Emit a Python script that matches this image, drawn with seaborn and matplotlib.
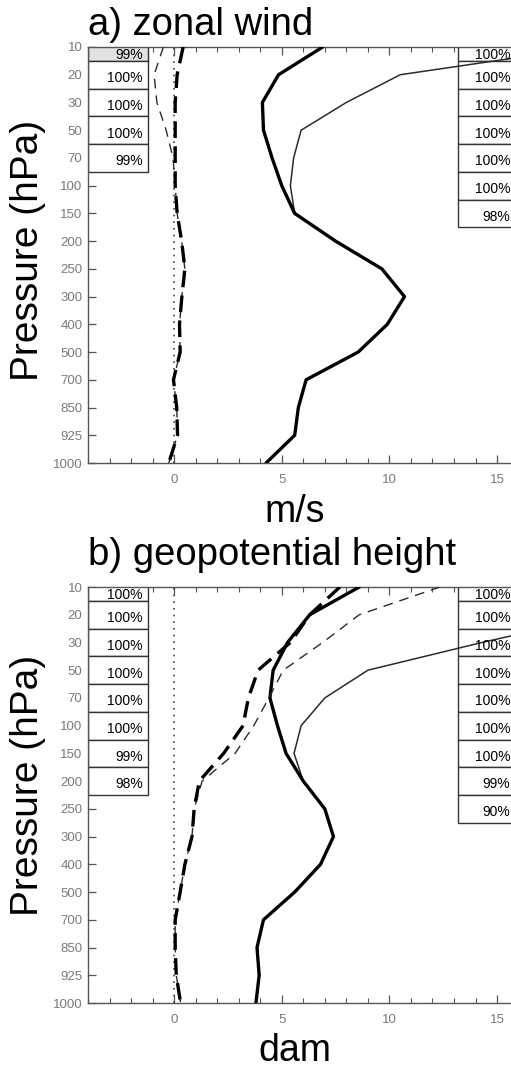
import numpy as np
import pandas as pd
import matplotlib
matplotlib.use("Agg")
import matplotlib.pyplot as plt
from matplotlib.patches import Rectangle
from matplotlib.ticker import MultipleLocator
import seaborn as sns

# ---------------- data ----------------
levels = ["10", "20", "30", "50", "70", "100", "150", "200", "250",
          "300", "400", "500", "700", "850", "925", "1000"]

# panel a) zonal wind (m/s)
a_thick = [6.9, 4.85, 4.1, 4.15, 4.55, 5.0, 5.6, 7.5, 9.65, 10.7, 9.9, 8.55, 6.13, 5.77, 5.6, 4.27]
a_thin = [19.3, 10.5, 8.0, 5.9, 5.55, 5.4, 5.6, 7.5, 9.65, 10.7, 9.9, 8.55, 6.13, 5.77, 5.6, 4.27]
a_thick_dash = [0.42, 0.14, 0.05, 0.05, 0.05, 0.05, 0.14, 0.35, 0.5, 0.36, 0.25, 0.28, -0.03, 0.12, 0.16, -0.25]
a_thin_dash = [-0.5, -0.93, -0.8, -0.37, -0.05, 0.05, 0.14, 0.35, 0.5, 0.36, 0.25, 0.28, -0.03, 0.12, 0.16, -0.25]
a_left_pct = ["99%", "100%", "100%", "100%", "99%"]
a_right_pct = ["100%", "100%", "100%", "100%", "100%", "100%", "98%"]

# panel b) geopotential height (dam)
b_thick = [8.6, 6.3, 5.27, 4.6, 4.45, 4.8, 5.2, 6.0, 7.0, 7.4, 6.8, 5.6, 4.15, 3.85, 3.95, 3.8]
b_thin = [24.0, 20.0, 14.3, 9.0, 7.0, 5.9, 5.57, 6.0, 7.0, 7.4, 6.8, 5.6, 4.15, 3.85, 3.95, 3.8]
b_thick_dash = [7.7, 6.3, 5.4, 3.9, 3.45, 3.2, 2.3, 1.17, 0.93, 0.83, 0.5, 0.28, 0.05, 0.05, 0.1, 0.3]
b_thin_dash = [12.35, 8.6, 6.9, 5.07, 4.4, 3.7, 2.83, 1.3, 0.93, 0.83, 0.5, 0.28, 0.05, 0.05, 0.1, 0.3]
b_left_pct = ["100%", "100%", "100%", "100%", "100%", "100%", "99%", "98%"]
b_right_pct = ["100%", "100%", "100%", "100%", "100%", "100%", "100%", "99%", "90%"]

# ---------------- style ----------------
sns.set_style("white")
plt.rcParams["font.family"] = ["Liberation Sans", "DejaVu Sans"]

W, H = 511, 1068
fig = plt.figure(figsize=(W / 100, H / 100), dpi=100)

idx = np.arange(len(levels))
XMIN, XMAX = -4, 16
axw = (XMAX - XMIN) * 21.53 / W
axh = 416 / H
ax_a = fig.add_axes([88 / W, 1 - 463 / H, axw, axh])
ax_b = fig.add_axes([88 / W, 1 - 1003 / H, axw, axh])


def draw_panel(ax, thick, thin, thick_dash, thin_dash, left_pct, right_pct, shaded_left):
    df = pd.DataFrame({
        "level": np.tile(idx, 4),
        "value": np.concatenate([thin, thick, thin_dash, thick_dash]),
        "series": np.repeat(["thin", "thick", "thin_dash", "thick_dash"], len(idx)),
    })
    styles = {
        "thin": dict(color="#2b2b2b", lw=1.1, ls="-"),
        "thick": dict(color="black", lw=2.4, ls="-"),
        "thin_dash": dict(color="#2b2b2b", lw=1.0, ls=(0, (7, 5))),
        "thick_dash": dict(color="black", lw=2.4, ls=(0, (5, 2.5))),
    }
    for name, st in styles.items():
        sub = df[df["series"] == name]
        sns.lineplot(data=sub, x="value", y="level", orient="y", sort=False,
                     estimator=None, ax=ax, color=st["color"], lw=st["lw"],
                     linestyle=st["ls"], zorder=4)
    ax.axvline(0, color="#444444", lw=1.2, ls=(0, (1, 3)), zorder=3)

    ax.set_xlim(XMIN, XMAX)
    ax.set_ylim(len(levels) - 1, 0)

    # tables of percentages
    lx0, lx1 = XMIN, -1.2
    for i, t in enumerate(left_pct):
        fc = "#e2e2e2" if (shaded_left and i == 0) else "white"
        ax.add_patch(Rectangle((lx0, i - 0.5), lx1 - lx0, 1, facecolor=fc,
                               edgecolor="#333333", lw=1.0, zorder=2))
        ty = i + 0.12 if i > 0 else 0.3
        ax.text(-1.45, ty, t, ha="right", va="center", fontsize=10,
                color="black", zorder=5, clip_on=True)
    rx0, rx1 = 13.2, XMAX
    for i, t in enumerate(right_pct):
        ax.add_patch(Rectangle((rx0, i - 0.5), rx1 - rx0, 1, facecolor="white",
                               edgecolor="#333333", lw=1.0, zorder=2))
        ty = i + 0.12 if i > 0 else 0.3
        ax.text(15.62, ty, t, ha="right", va="center", fontsize=10,
                color="black", zorder=5, clip_on=True)

    ax.set_yticks(idx)
    ax.set_yticklabels(levels)
    ax.set_xticks([0, 5, 10, 15])
    ax.set_xticklabels(["0", "5", "10", "15"])
    ax.xaxis.set_minor_locator(MultipleLocator(1))
    ax.tick_params(axis="both", which="major", direction="in", length=6,
                   width=0.9, color="#555555", labelcolor="#7a7a7a",
                   labelsize=9.5, top=True, right=True, bottom=True, left=True)
    ax.tick_params(axis="x", which="major", pad=8)
    ax.tick_params(axis="y", which="major", pad=4, length=6)
    ax.tick_params(axis="x", which="minor", direction="in", length=3.5,
                   width=0.8, color="#555555", top=True, bottom=True)
    for sp in ax.spines.values():
        sp.set_color("#555555")
        sp.set_linewidth(1.0)
    ax.set_xlabel("")
    ax.set_ylabel("")


draw_panel(ax_a, a_thick, a_thin, a_thick_dash, a_thin_dash, a_left_pct, a_right_pct, True)
draw_panel(ax_b, b_thick, b_thin, b_thick_dash, b_thin_dash, b_left_pct, b_right_pct, False)

# titles and labels
tk = dict(color="black")
fig.text(88 / W, 1 - 35 / H, "a) zonal wind", fontsize=27.5, ha="left", va="baseline", **tk)
fig.text(88 / W, 1 - 565 / H, "b) geopotential height", fontsize=27.5, ha="left", va="baseline", **tk)
fig.text(295 / W, 1 - 522 / H, "m/s", fontsize=27, ha="center", va="baseline", **tk)
fig.text(295 / W, 1 - 1061 / H, "dam", fontsize=27, ha="center", va="baseline", **tk)
fig.text(28 / W, 1 - 250 / H, "Pressure (hPa)", fontsize=28, rotation=90, ha="center", va="center", **tk)
fig.text(28 / W, 1 - 785 / H, "Pressure (hPa)", fontsize=28, rotation=90, ha="center", va="center", **tk)

fig.savefig("out.png", dpi=100)
